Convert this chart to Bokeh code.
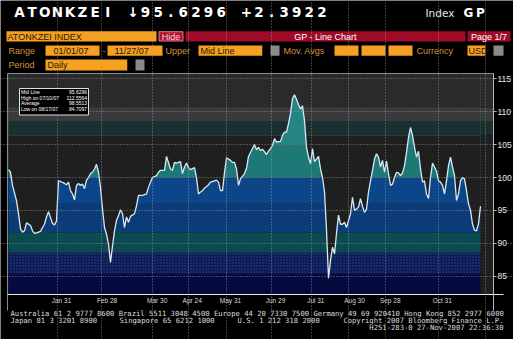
import numpy as np
from bokeh.plotting import figure
from bokeh.models import Range1d, LinearAxis, FixedTicker, Grid
from bokeh.core.properties import value
from bokeh.embed import file_html
from bokeh.resources import INLINE

# ---------------- data ----------------
obs = [0, 1, 2, 4, 5, 6, 7, 8, 9, 11, 12, 13, 14, 16, 17, 18, 19, 20, 21, 22, 23, 24, 25, 26,
       28, 29, 30, 31, 32, 33, 34, 35, 36, 37, 38, 39, 40, 41, 42, 43, 44, 45, 46, 47, 48, 49,
       50, 51, 52, 53, 54, 55, 56, 57, 58, 59, 60, 61, 63, 64, 65, 67, 69, 70, 71, 72, 74, 75,
       76, 78, 79, 81, 82, 83, 84, 86, 87, 88, 89, 90, 91, 93, 94, 95, 96, 97, 98, 99, 100, 101,
       103, 104, 105, 106, 107, 108, 109, 111, 112, 113, 114, 115, 116, 118, 119, 120, 121, 122,
       123, 124, 125, 126, 127, 129, 130, 131, 132, 133, 134, 136, 137, 138, 139, 140, 141, 142,
       143, 144, 145, 146, 147, 148, 149, 150, 151, 152, 153, 154, 155, 156, 157, 158, 159, 160,
       161, 162, 163, 164, 165, 166, 167, 168, 169, 171, 172, 173, 174, 175, 176, 177, 178, 179,
       180, 181, 182, 183, 184, 185, 186, 187, 188, 189, 190, 191, 192, 193, 194, 195, 196, 197,
       198, 199, 200, 201, 202, 203, 204, 205, 206, 207, 208, 209, 210, 211, 212, 213, 214, 215,
       216, 217, 218, 219, 220, 221, 222, 223, 224, 225, 226, 227, 228, 229, 230, 231, 232, 233,
       234, 235, 236]
vals = [101.2, 100.8, 98.8, 96.5, 94.5, 92.2, 91.7, 91.9, 93.1, 92.7, 91.9, 91.5, 91.6, 91.8,
        92.4, 92.9, 94.0, 94.8, 93.9, 93.0, 92.8, 93.4, 99.5, 99.4, 99.1, 98.9, 99.3, 98.0, 97.5,
        96.6, 98.8, 99.1, 98.8, 99.0, 98.3, 99.6, 100.0, 100.6, 100.8, 101.3, 102.0, 100.8, 98.5,
        95.2, 92.4, 91.4, 89.9, 87.1, 89.6, 91.9, 93.5, 94.2, 95.1, 94.5, 92.4, 94.0, 93.2, 94.1,
        94.5, 95.7, 97.3, 97.3, 97.5, 98.5, 99.3, 100.0, 100.3, 100.8, 101.1, 101.1, 103.2, 101.3,
        101.1, 102.3, 102.2, 102.4, 100.6, 101.6, 102.2, 101.5, 101.2, 101.5, 100.0, 97.5, 97.8,
        98.0, 98.4, 98.6, 98.9, 99.3, 99.5, 99.6, 99.3, 98.0, 98.0, 100.8, 103.0, 102.6, 102.3,
        102.3, 101.3, 98.8, 99.8, 100.6, 101.4, 103.2, 103.8, 104.4, 105.0, 104.2, 104.6, 104.1,
        104.3, 103.5, 104.0, 104.4, 104.9, 105.9, 105.4, 105.5, 106.4, 106.9, 106.9, 108.2, 109.7,
        112.0, 112.56, 111.9, 111.1, 110.4, 110.9, 108.6, 104.6, 103.1, 102.1, 104.4, 102.4, 102.8,
        103.2, 101.3, 100.0, 97.8, 92.0, 84.71, 87.4, 89.4, 88.4, 91.5, 94.3, 92.9, 92.9, 93.2,
        92.4, 94.5, 97.0, 95.0, 95.2, 95.5, 96.8, 95.6, 94.7, 95.2, 97.8, 99.5, 101.1, 102.8,
        103.6, 103.1, 101.6, 102.6, 100.8, 102.5, 100.6, 98.8, 99.0, 100.0, 100.8, 100.7, 100.3,
        100.7, 101.8, 103.8, 106.1, 107.6, 106.4, 104.6, 103.1, 104.0, 101.3, 99.3, 99.5, 97.5,
        96.8, 100.0, 102.2, 101.6, 101.0, 99.5, 99.3, 98.8, 97.5, 99.5, 101.8, 103.1, 101.6,
        100.3, 96.5, 97.5, 99.5, 100.0, 99.8, 98.0, 96.0, 95.0, 92.9, 92.0, 91.9, 93.0, 95.63]

y_ticks = [85, 90, 95, 100, 105, 110, 115]
date_labels = ["Jan 31", "Feb 28", "Mar 30", "Apr 24", "May 31", "Jun 29",
               "Jul 31", "Aug 30", "Sep 28", "Oct 31"]
date_grid_obs = [24.5, 46.5, 72.0, 90.0, 109.0, 131.5, 151.5, 170.0, 188.5, 215.0, 238.5]
date_label_obs = [26.5, 49.25, 74.35, 91.85, 111.0, 133.5, 153.65, 173.0, 190.85, 216.85]
legend_rows = ["Mid Line", "High on 07/10/07", "Average", "Low on 08/17/07"]
legend_vals = ["95.6296", "112.5564", "98.5513", "84.7097"]

title_text = "ATONKZEI \u219395.6296 +2.3922"
footer_1 = ("Australia 61 2 9777 8600 Brazil 5511 3048 4500 Europe 44 20 7330 7500 "
            "Germany 49 69 920410 Hong Kong 852 2977 6000")
footer_2 = ["Japan 81 3 3201 8900", "Singapore 65 6212 1000", "U.S. 1 212 318 2000"]
footer_copy = "Copyright 2007 Bloomberg Finance L.P."
footer_stamp = "H251-283-0 27-Nov-2007 22:36:30"

# ---------------- geometry ----------------
X0, X1 = -0.5, 242.5          # chart x extent (observation index)
Y0, Y1 = 82.22, 115.81        # chart y extent (index level)
FL, FR, FT, FB = 7, 493, 73, 294   # chart edges on the page (pixels)


def px2x(px):
    return X0 + (px - FL) * (X1 - X0) / (FR - FL)


def py2y(py):
    return Y1 - (py - FT) * (Y1 - Y0) / (FB - FT)


p = figure(width=513, height=339,
           x_range=Range1d(px2x(0), px2x(513)), y_range=Range1d(py2y(339), py2y(0)),
           x_axis_type=None, y_axis_type=None, output_backend="svg", toolbar_location=None,
           min_border=0, background_fill_color="black", border_fill_color="black",
           outline_line_color=None)

v = np.array(vals, dtype=float)
x = np.array(obs, dtype=float)

bg_bands = [(Y0, 106.4, "#1f1f1f"), (106.4, 108.6, "#1c2f2f"),
            (108.6, 110.6, "#3a3a3a"), (110.6, Y1, "#2a2a2a")]
under_bands = [(Y0, 85.4, "#050b3f"), (85.4, 88.6, "#0a1a55"), (88.6, 91.7, "#0c4a52"),
               (91.7, 96.0, "#0b3c77"), (96.0, 100.0, "#0d4688"), (100.0, 105.0, "#1d7876"),
               (105.0, Y1, "#258583")]

for lo, hi, c in bg_bands:
    p.quad(left=X0, right=X1, bottom=lo, top=hi, fill_color=c, line_color=None)
for lo, hi, c in under_bands:
    kw = {}
    if lo == 85.4:
        kw = dict(hatch_pattern="dot", hatch_color="#4a66b0", hatch_alpha=0.55, hatch_scale=3)
    p.quad(left=obs[0], right=obs[-1], bottom=lo, top=hi, fill_color=c, line_color=None, **kw)
for lo, hi, c in bg_bands:
    p.varea(x=x, y1=np.maximum(v, lo), y2=np.maximum(v, hi), fill_color=c)

p.line(x, v, line_color="#d8e8f4", line_width=1.3)

p.add_layout(Grid(dimension=1, ticker=FixedTicker(ticks=y_ticks), bounds=(X0, X1),
                  grid_line_color="#a0a0a0", grid_line_dash="1 2", grid_line_alpha=0.75,
                  level="annotation"))
p.add_layout(Grid(dimension=0, ticker=FixedTicker(ticks=date_grid_obs), bounds=(Y0, Y1),
                  grid_line_color="#a0a0a0", grid_line_dash="1 2", grid_line_alpha=0.75,
                  level="annotation"))

# chart box lines (left and top)
p.segment(x0=[X0, X0], y0=[py2y(310), Y1], x1=[X0, X1], y1=[Y1, Y1],
          line_color="#8a8a8a", line_width=1)

yax = LinearAxis(ticker=FixedTicker(ticks=y_ticks), fixed_location=X1,
                 bounds=(py2y(310), Y1), axis_line_color="#b8b8b8",
                 major_tick_out=3, major_tick_in=0, major_tick_line_color="#b8b8b8",
                 minor_tick_line_color=None, major_label_text_color="#e8e8e8",
                 major_label_text_font="Liberation Sans", major_label_text_font_size="8.5px",
                 major_label_standoff=1)
p.add_layout(yax, "right")
xax = LinearAxis(ticker=FixedTicker(ticks=date_label_obs), fixed_location=Y0,
                 bounds=(X0, px2x(503)),
                 major_label_overrides=dict(zip(date_label_obs, date_labels)),
                 axis_line_color="#e8e8e8", major_tick_out=0, major_tick_in=0,
                 major_tick_line_color=None, minor_tick_line_color=None,
                 major_label_text_color="#d8d8d8", major_label_text_font="Liberation Sans",
                 major_label_text_font_size="6.5px", major_label_standoff=2)
p.add_layout(xax, "below")


def box(l, r, t, b, color, line=None, level=None):
    g = p.quad(left=px2x(l), right=px2x(r), top=py2y(t), bottom=py2y(b),
               fill_color=color, line_color=line, line_width=1)
    if level:
        g.level = level


def lab(pxs, pys, texts, color, size, font="Liberation Sans", style="normal", align="left",
        level=None):
    g = p.text(x=[px2x(a) for a in pxs], y=[py2y(b) for b in pys], text=texts,
               text_color=color, text_font=value(font), text_font_size=size,
               text_font_style=style, text_align=align, text_baseline="middle")
    if level:
        g.level = level


# legend box inside the chart
box(19, 88, 88, 114.5, "black", "#e0e0e0", level="overlay")
rows_py = [91.5, 97.1, 102.7, 108.3]
lab([20.5] * 4, rows_py, legend_rows, "white", "5px", level="overlay")
lab([86.5] * 4, rows_py, legend_vals, "white", "5px", align="right", level="overlay")

# ---------------- header ----------------
chars = [(12.7 + 12.6 * i + 6.3, ch) for i, ch in enumerate(title_text) if ch != " "]
lab([c[0] for c in chars], [11.8] * len(chars), [c[1] for c in chars], "white", "13.5px",
    font="DejaVu Sans", style="bold", align="center")
lab([425], [12], ["Index"], "#e8e8e8", "10.5px", font="DejaVu Sans")
lab([468, 480], [12, 12], ["G", "P"], "white", "12px", font="DejaVu Sans", style="bold",
    align="center")

ORANGE = "#f5a020"
LBL = "#d4913c"
DARK = "#2a1800"
RED = "#a00c28"
# row 2
box(6, 156, 30.7, 41, ORANGE)
box(158.5, 182.5, 31.2, 40.5, "#b01230", "#e07a90")
box(185, 465, 30.7, 41, RED)
box(467, 510, 30.7, 41, RED)
lab([7], [36], ["ATONKZEI INDEX"], DARK, "9px")
lab([170.5], [36], ["Hide"], "#f6d0d8", "9px", align="center")
lab([325], [36], ["GP - Line Chart"], "white", "9px", align="center")
lab([488.5], [36], ["Page 1/7"], "white", "9px", align="center")
# row 3
r3 = 50.2
for l, r in [(45, 99), (107, 162), (198, 262), (334, 358), (361, 385), (388, 412), (467, 485)]:
    box(l, r, 45, 55.3, ORANGE)
for l, r in [(262, 270), (485, 493)]:
    box(l, r, 45, 55.3, "black")
for l, r in [(270, 279), (493, 503)]:
    box(l, r, 45, 55.3, "#8a8a8a")
lab([8, 102, 165, 283, 416], [r3] * 5, ["Range", "-", "Upper", "Mov. Avgs", "Currency"],
    LBL, "9px")
lab([53, 114, 200, 468], [r3] * 4, ["01/01/07", "11/27/07", "Mid Line", "USD"], DARK, "9px")
# row 4
r4 = 64.3
box(45, 127, 59, 70, ORANGE)
box(127, 135, 59, 70, "black")
box(135, 144, 59, 70, "#8a8a8a")
lab([8], [r4], ["Period"], LBL, "9px")
lab([47], [r4], ["Daily"], DARK, "9px")

# ---------------- footer ----------------
FC = "#dcdcdc"
MONO = "DejaVu Sans Mono"
lab([10], [313.4], [footer_1], FC, "7.2px", font=MONO)
lab([10, 119, 237], [320.4] * 3, footer_2, FC, "7.2px", font=MONO)
lab([503, 503], [320.4, 326.6], [footer_copy, footer_stamp], FC, "7.2px", font=MONO,
    align="right")

open("out.html", "w").write(file_html(p, INLINE))
